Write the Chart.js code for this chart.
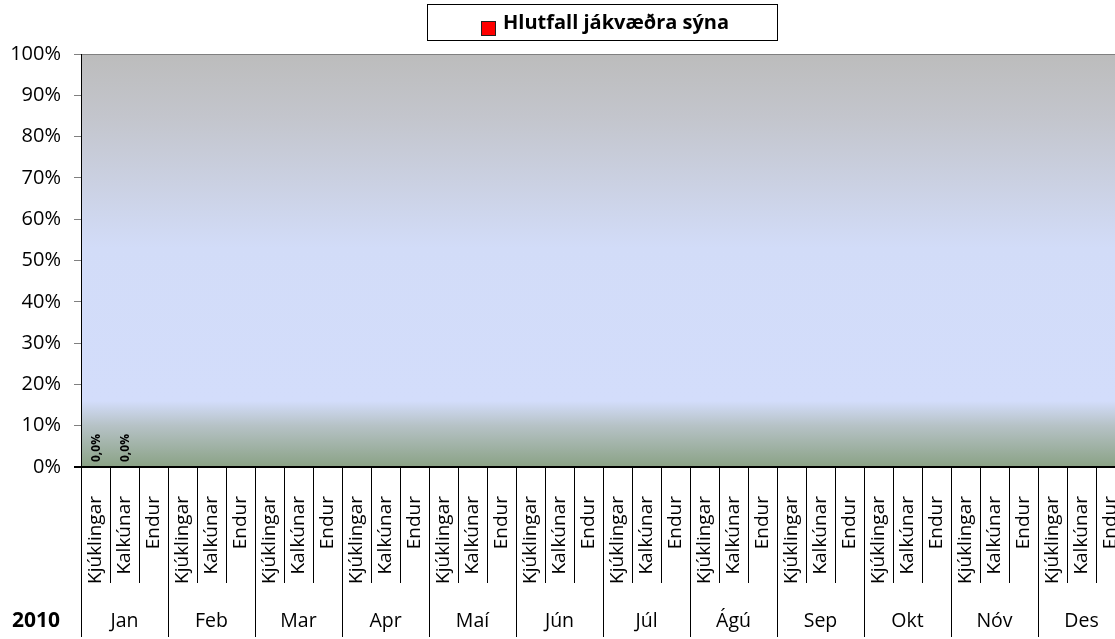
<!DOCTYPE html>
<html>
<head>
<meta charset="utf-8">
<script src="https://cdn.jsdelivr.net/npm/chart.js@4"></script>
<style>
html,body{margin:0;padding:0;overflow:hidden;background:#fff;width:1115px;height:639px;}
canvas{display:block;}
</style>
</head>
<body>
<canvas id="c" width="1125" height="639"></canvas>
<script>
const year = '2010';
const months = ['Jan','Feb','Mar','Apr','Maí','Jún','Júl','Ágú','Sep','Okt','Nóv','Des'];
const subCategories = ['Kjúklingar','Kalkúnar','Endur'];
const seriesName = 'Hlutfall jákvæðra sýna';
const seriesValues = [0, 0, null, null, null, null, null, null, null, null, null, null,
                      null, null, null, null, null, null, null, null, null, null, null, null,
                      null, null, null, null, null, null, null, null, null, null, null, null];
const yTicks = [0,10,20,30,40,50,60,70,80,90,100];

const FONT = '"Open Sans", Lato, sans-serif';
const categories = [];
months.forEach(m => subCategories.forEach(s => categories.push(s)));

const bgPlugin = {
  id: 'bg',
  beforeDraw(chart) {
    const {ctx, chartArea: a} = chart;
    const g = ctx.createLinearGradient(0, a.top, 0, a.bottom);
    g.addColorStop(0, '#bcbcbc');
    g.addColorStop(0.15, '#c3c5cc');
    g.addColorStop(0.47, '#d2dcf8');
    g.addColorStop(0.84, '#d3ddfb');
    g.addColorStop(0.9, '#b6c2c6');
    g.addColorStop(1, '#8aa285');
    ctx.save();
    ctx.fillStyle = g;
    ctx.fillRect(a.left, a.top, a.right - a.left, a.bottom - a.top);
    ctx.restore();
  }
};

const decorPlugin = {
  id: 'decor',
  afterDraw(chart) {
    const {ctx, chartArea: a} = chart;
    const xs = chart.scales.x;
    const n = categories.length;
    const w = xs.getPixelForValue(1) - xs.getPixelForValue(0);
    ctx.save();
    // top border
    ctx.strokeStyle = '#808080';
    ctx.lineWidth = 1;
    ctx.beginPath();
    ctx.moveTo(a.left, a.top + 0.5);
    ctx.lineTo(a.right, a.top + 0.5);
    ctx.stroke();
    // separators
    ctx.strokeStyle = '#000';
    for (let i = 0; i <= n; i++) {
      const x = Math.round(xs.getPixelForValue(i) - w / 2) + 0.5;
      const yEnd = (i % 3 === 0) ? 637 : 583;
      ctx.beginPath();
      ctx.moveTo(x, a.bottom);
      ctx.lineTo(x, yEnd);
      ctx.stroke();
    }
    // x axis line
    ctx.lineWidth = 2;
    ctx.beginPath();
    ctx.moveTo(a.left - 7, a.bottom);
    ctx.lineTo(a.right, a.bottom);
    ctx.stroke();
    // y axis line
    ctx.lineWidth = 1;
    ctx.beginPath();
    ctx.moveTo(a.left + 0.5, a.top);
    ctx.lineTo(a.left + 0.5, a.bottom);
    ctx.stroke();
    // month labels
    ctx.fillStyle = '#000';
    ctx.font = '19.5px ' + FONT;
    ctx.textAlign = 'center';
    ctx.textBaseline = 'middle';
    months.forEach((m, k) => {
      const cx = (xs.getPixelForValue(k * 3) + xs.getPixelForValue(k * 3 + 2)) / 2;
      ctx.fillText(m, cx, 621);
    });
    ctx.font = 'bold 21px ' + FONT;
    ctx.fillText(year, 36, 621);
    // data labels
    const meta = chart.getDatasetMeta(0);
    ctx.font = 'bold 12px ' + FONT;
    ctx.textAlign = 'left';
    ctx.textBaseline = 'middle';
    seriesValues.forEach((v, i) => {
      if (v === null) return;
      const el = meta.data[i];
      const txt = v.toFixed(1).replace('.', ',') + '%';
      ctx.save();
      ctx.translate(el.x + 1, el.y - 5);
      ctx.rotate(-Math.PI / 2);
      ctx.fillText(txt, 0, 0);
      ctx.restore();
    });
    // legend
    ctx.fillStyle = '#fff';
    ctx.fillRect(427, 4, 350, 36);
    ctx.strokeStyle = '#000';
    ctx.lineWidth = 1;
    ctx.strokeRect(427.5, 4.5, 350, 36);
    ctx.fillStyle = '#ff0000';
    ctx.fillRect(481, 21, 15, 15);
    ctx.strokeStyle = '#222';
    ctx.strokeRect(481.5, 21.5, 14, 14);
    ctx.fillStyle = '#000';
    ctx.font = 'bold 20px ' + FONT;
    ctx.textAlign = 'left';
    ctx.textBaseline = 'alphabetic';
    ctx.fillText(chart.data.datasets[0].label, 503, 29);
    ctx.restore();
  }
};

new Chart(document.getElementById('c'), {
  type: 'bar',
  data: {
    labels: categories,
    datasets: [{
      label: seriesName,
      data: seriesValues,
      backgroundColor: '#ff0000',
      borderColor: '#000',
      borderWidth: 0
    }]
  },
  options: {
    responsive: false,
    devicePixelRatio: 1,
    animation: false,
    layout: { padding: { top: 54, left: 0, right: 0, bottom: 0 } },
    plugins: { legend: { display: false }, tooltip: { enabled: false } },
    scales: {
      x: {
        offset: true,
        grid: { display: false },
        border: { display: false },
        ticks: {
          autoSkip: false,
          minRotation: 90,
          maxRotation: 90,
          padding: 21,
          color: '#000',
          font: { family: FONT, size: 19 }
        },
        afterFit(s) { s.height = 172; s.paddingLeft = 0; s.paddingRight = 0; }
      },
      y: {
        min: 0,
        max: 100,
        afterBuildTicks(s) { s.ticks = yTicks.map(v => ({ value: v })); },
        grid: { drawOnChartArea: false, tickLength: 7, color: '#808080' },
        border: { display: false },
        ticks: {
          padding: 13,
          color: '#000',
          font: { family: FONT, size: 20 },
          callback: v => v + '%'
        },
        afterFit(s) { s.width = 81; s.paddingTop = 0; s.paddingBottom = 0; }
      }
    }
  },
  plugins: [bgPlugin, decorPlugin]
});
</script>
</body>
</html>
